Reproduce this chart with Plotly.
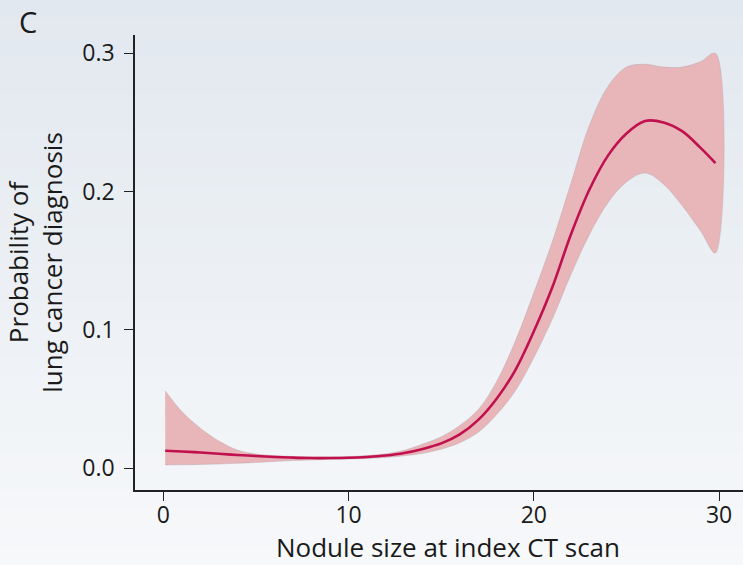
import plotly.graph_objects as go

# Data
nodule_size = [0.1, 1, 2, 3, 4, 5, 6, 7, 8, 9, 10, 11, 12, 13, 14, 15, 16, 17,
               18, 19, 20, 21, 22, 23, 24, 25, 26, 27, 28, 29, 29.8]
prob = [0.0127, 0.0121, 0.0114, 0.0105, 0.0096, 0.0089, 0.0082, 0.0077, 0.0074,
        0.0074, 0.0076, 0.0082, 0.0092, 0.011, 0.014, 0.018, 0.0245, 0.035,
        0.0505, 0.071, 0.099, 0.131, 0.169, 0.2015, 0.226, 0.242, 0.251, 0.250,
        0.2437, 0.2316, 0.2206]
upper = [0.056, 0.041, 0.029, 0.0197, 0.0132, 0.0103, 0.0092, 0.0085, 0.0082,
         0.0082, 0.0085, 0.0092, 0.0105, 0.013, 0.0175, 0.0228, 0.031, 0.0425,
         0.063, 0.092, 0.127, 0.164, 0.206, 0.248, 0.276, 0.290, 0.292, 0.290,
         0.290, 0.294, 0.300]
lower = [0.0024, 0.0025, 0.0028, 0.0031, 0.0036, 0.0042, 0.0049, 0.0056, 0.006,
         0.0064, 0.0067, 0.0071, 0.0078, 0.009, 0.0108, 0.0138, 0.0185, 0.026,
         0.039, 0.056, 0.080, 0.108, 0.140, 0.169, 0.192, 0.207, 0.2134, 0.2054,
         0.190, 0.1715, 0.1556]
x_ticks = [0, 10, 20, 30]
y_ticks = [0.0, 0.1, 0.2, 0.3]
y_ticklabels = ["0.0", "0.1", "0.2", "0.3"]

FONT = "Open Sans"
TXT = "#1a1a1a"

fig = go.Figure()
fig.add_trace(go.Scatter(
    x=nodule_size + nodule_size[::-1],
    y=upper + lower[::-1],
    fill="toself", fillcolor="#e8b5b9",
    line=dict(color="rgba(170,160,165,0.6)", width=0.6, shape="spline"),
    mode="lines", hoverinfo="skip", showlegend=False,
))
fig.add_trace(go.Scatter(
    x=nodule_size, y=prob, mode="lines",
    line=dict(color="#c0104e", width=2.6, shape="spline"),
    showlegend=False,
))

# background gradient (top bluish grey -> bottom near white)
top = (226, 232, 239)
bot = (246, 248, 250)
n = 30
y_top, y_bot = 1 + 35 / 455, -75 / 455
shapes = []
for i in range(n):
    t = i / (n - 1)
    c = tuple(round(top[k] + (bot[k] - top[k]) * t) for k in range(3))
    y0 = y_top - (y_top - y_bot) * i / n
    y1 = y_top - (y_top - y_bot) * (i + 1) / n
    shapes.append(dict(type="rect", xref="paper", yref="paper",
                       x0=-0.25, x1=1.02, y0=y1 - 0.002, y1=y0,
                       fillcolor="rgb(%d,%d,%d)" % c, line=dict(width=0),
                       layer="below"))

fig.update_layout(
    width=761, height=565,
    margin=dict(l=135, r=0, t=35, b=75),
    paper_bgcolor="rgb(236,240,244)",
    plot_bgcolor="rgba(0,0,0,0)",
    shapes=shapes,
    font=dict(family=FONT, color=TXT, size=23),
    xaxis=dict(
        range=[-1.53, 32.26], tickvals=x_ticks,
        showgrid=False, zeroline=False, showline=True, linecolor="#222",
        linewidth=1.5, ticks="outside", ticklen=9, tickwidth=1.3, tickcolor="#222",
        ticklabelstandoff=-5,
        tickfont=dict(size=23, family=FONT, color=TXT),
        title=dict(text="Nodule size at index CT scan",
                   font=dict(size=26, family=FONT, color=TXT), standoff=9),
    ),
    yaxis=dict(
        range=[-0.0157, 0.3132], tickvals=y_ticks, ticktext=y_ticklabels,
        showgrid=False, zeroline=False, showline=True, linecolor="#222",
        linewidth=1.5, ticks="outside", ticklen=9, tickwidth=1.3, tickcolor="#222",
        ticklabelstandoff=5,
        tickfont=dict(size=23, family=FONT, color=TXT),
        title=dict(text="Probability of<br>lung cancer diagnosis",
                   font=dict(size=26, family=FONT, color=TXT), standoff=12),
    ),
    annotations=[dict(text="C", xref="paper", yref="paper",
                      x=-135 / 626 + 17 / 626, y=1.077, xanchor="left", yanchor="top",
                      showarrow=False, font=dict(size=29, family=FONT, color=TXT))],
)

fig.write_html("out.html",
               config={"displayModeBar": False},
               post_script="document.body.style.margin='0';"
                           "document.body.style.overflow='hidden';")
